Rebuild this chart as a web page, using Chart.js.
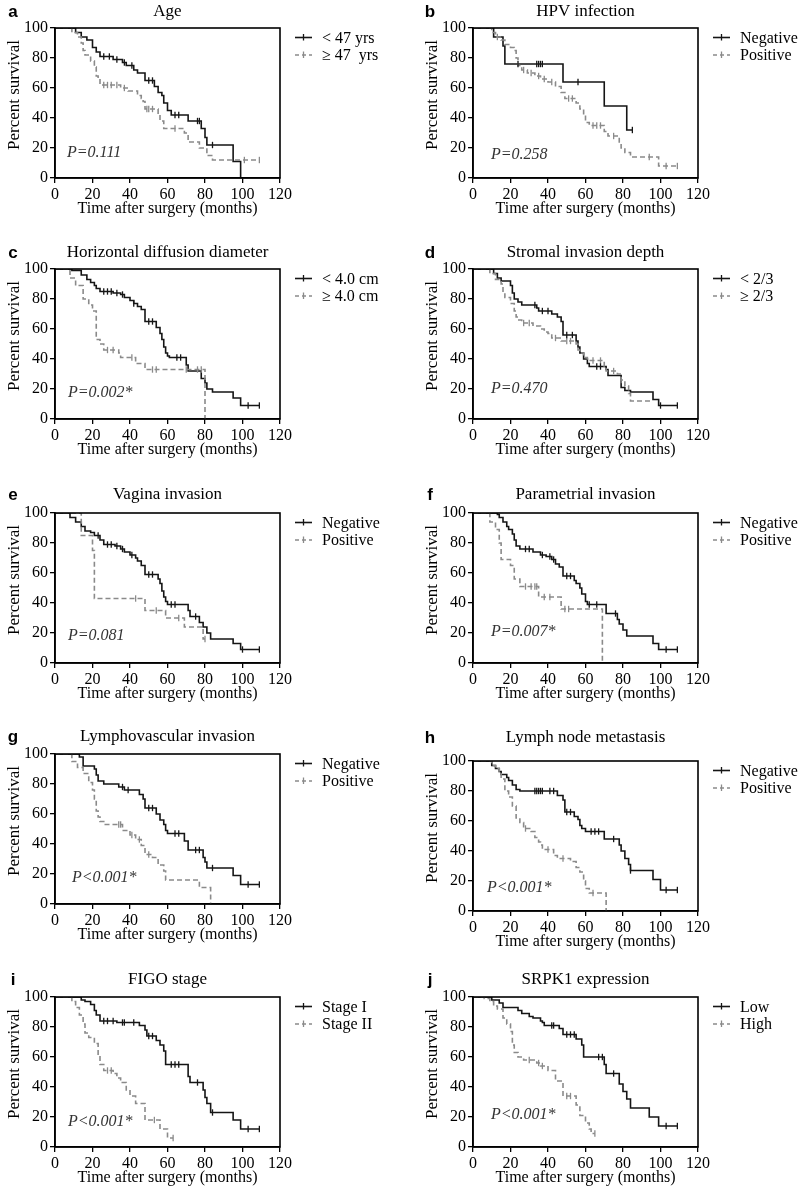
<!DOCTYPE html>
<html>
<head>
<meta charset="utf-8">
<script src="https://cdn.jsdelivr.net/npm/chart.js@4.4.1/dist/chart.umd.min.js"></script>
<style>
  html, body { margin: 0; padding: 0; background: #fff; }
  body { position: relative; width: 800px; height: 1191px; overflow: hidden; }
  canvas { position: absolute; }
</style>
</head>
<body>
<script>
// panel text
const panelLetters = ['a', 'b', 'c', 'd', 'e', 'f', 'g', 'h', 'i', 'j'];
const panelTitles = ['Age', 'HPV infection', 'Horizontal diffusion diameter', 'Stromal invasion depth',
  'Vagina invasion', 'Parametrial invasion', 'Lymphovascular invasion', 'Lymph node metastasis',
  'FIGO stage', 'SRPK1 expression'];
const groupLabels = [['< 47 yrs', '\u2265 47  yrs'], ['Negative', 'Positive'], ['< 4.0 cm', '\u2265 4.0 cm'],
  ['< 2/3', '\u2265 2/3'], ['Negative', 'Positive'], ['Negative', 'Positive'], ['Negative', 'Positive'],
  ['Negative', 'Positive'], ['Stage I', 'Stage II'], ['Low', 'High']];
const pLabels = ['P=0.111', 'P=0.258', 'P=0.002*', 'P=0.470', 'P=0.081', 'P=0.007*',
  'P<0.001*', 'P<0.001*', 'P<0.001*', 'P<0.001*'];
const xTitle = 'Time after surgery (months)';
const yTitle = 'Percent survival';

// Kaplan-Meier steps [month, percent survival] and censored times
const ageLt47 = [[0,100],[11,97],[14,94],[17,92],[20,87],[22,84],[24,81],[31,79],[36,77],[38,75],[42,72],[44,70],[48,65],[53,61],[55,57],[57,55],[58,50],[60,45],[62,42],[71,38],[78,33],[80,27],[81,22],[95,11],[99,0]];
const ageLt47Cens = [26,29,33,37,41,50,52,64,66,76,77,84];
const ageGe47 = [[0,100],[9,97],[12,94],[14,90],[15,85],[16,82],[19,78],[21,74],[22,68],[23,66],[24,62],[35,60],[39,58],[44,55],[46,53],[47,51],[48,46],[55,42],[56,38],[58,33],[69,30],[71,24],[77,20],[81,15],[84,12],[109,12]];
const ageGe47Cens = [26,28,30,33,37,49,50,52,64,101,109];

const hpvNeg = [[0,100],[11,94],[16,88],[17,76],[48,64],[70,48],[82,32],[85,32]];
const hpvNegCens = [24,34,35,36,37,56,85];
const hpvPos = [[0,100],[10,97],[12,94],[15,92],[17,89],[20,87],[22,85],[23,80],[24,75],[26,72],[29,70],[33,68],[36,66],[40,64],[44,61],[47,57],[49,53],[55,50],[57,46],[59,42],[60,37],[62,35],[70,31],[72,28],[78,24],[79,20],[81,17],[84,14],[99,8],[109,8]];
const hpvPosCens = [13,27,31,35,38,42,51,53,64,66,68,75,94,103,109];

const diamLt4 = [[0,100],[9,99],[14,96],[17,93],[19,91],[21,89],[22,87],[24,85],[31,84],[35,83],[37,81],[40,79],[42,77],[44,75],[46,73],[48,65],[54,61],[56,57],[57,53],[58,48],[59,44],[60,42],[61,41],[70,36],[71,32],[78,27],[80,24],[81,20],[84,18],[95,14],[99,9],[109,9]];
const diamLt4Cens = [26,28,30,33,36,42,50,52,65,67,103,109];
const diamGe4 = [[0,100],[8,94],[11,89],[15,80],[18,76],[20,72],[22,53],[24,50],[26,46],[34,44],[35,41],[43,37],[48,33],[80,0]];
const diamGe4Cens = [28,31,41,52,54,70,76,78];

const depthLt = [[0,100],[11,97],[13,94],[15,92],[20,89],[21,84],[22,80],[24,78],[26,76],[34,74],[35,72],[42,70],[45,68],[47,65],[48,56],[55,52],[56,48],[57,44],[59,40],[61,37],[62,35],[71,33],[72,29],[79,21],[81,19],[84,18],[96,13],[99,9],[109,9]];
const depthLtCens = [33,37,40,50,53,66,68,100,109];
const depthGe = [[0,100],[9,97],[12,93],[15,90],[16,84],[17,81],[20,77],[22,72],[23,68],[24,66],[26,64],[32,62],[36,60],[38,58],[40,57],[42,54],[47,52],[55,50],[56,46],[57,44],[59,41],[61,39],[70,35],[71,32],[77,30],[79,26],[81,22],[83,17],[84,12],[96,12]];
const depthGeCens = [27,30,44,50,52,64,68,75,79];

const vagNeg = [[0,100],[8,97],[11,94],[14,91],[16,88],[19,87],[21,85],[24,82],[26,79],[32,78],[35,76],[37,74],[40,72],[43,70],[44,68],[46,65],[48,59],[55,56],[56,53],[57,48],[58,44],[59,41],[60,39],[71,35],[72,31],[77,27],[79,24],[81,20],[83,16],[95,13],[99,9],[109,9]];
const vagNegCens = [23,28,30,33,36,41,50,52,62,64,75,100,109];
const vagPos = [[0,100],[14,85],[20,75],[21,43],[48,35],[59,30],[69,24],[79,16],[80,16]];
const vagPosCens = [43,54,66,80];

const paraNeg = [[0,100],[13,99],[14,97],[16,94],[18,91],[19,89],[21,86],[22,82],[23,78],[25,76],[32,74],[36,72],[39,71],[42,69],[44,66],[46,64],[48,58],[54,55],[55,53],[57,50],[58,46],[60,41],[61,39],[71,33],[77,29],[78,26],[80,22],[82,18],[96,13],[99,9],[109,9]];
const paraNegCens = [28,30,37,41,43,50,52,62,66,76,103,109];
const paraPos = [[0,100],[9,94],[12,89],[14,80],[15,69],[20,65],[22,56],[25,51],[35,44],[47,36],[69,0]];
const paraPosCens = [28,31,33,34,38,41,49,51];

const lviNeg = [[0,100],[13,98],[15,92],[21,90],[22,86],[23,82],[26,80],[34,78],[37,76],[45,73],[47,70],[48,64],[54,60],[56,56],[58,53],[59,49],[60,47],[69,42],[71,36],[79,31],[80,28],[81,24],[95,19],[99,13],[109,13]];
const lviNegCens = [36,39,50,52,64,66,75,77,84,103,109];
const lviPos = [[0,100],[9,95],[12,91],[15,87],[18,81],[20,76],[21,70],[22,62],[23,58],[24,55],[26,53],[36,49],[40,46],[43,43],[46,39],[48,33],[52,31],[55,26],[58,22],[59,16],[77,11],[83,0]];
const lviPosCens = [34,35,41,45,50];

const lnmNeg = [[0,100],[10,97],[12,95],[14,93],[15,91],[18,89],[19,87],[21,84],[23,81],[25,80],[45,77],[48,74],[49,66],[54,63],[56,61],[57,57],[58,55],[60,53],[70,48],[78,44],[79,40],[81,35],[83,31],[84,27],[96,21],[100,14],[109,14]];
const lnmNegCens = [33,34,35,36,37,41,43,50,52,63,65,67,75,84,103,109];
const lnmPos = [[0,100],[10,97],[12,95],[14,93],[15,88],[17,80],[19,76],[21,70],[23,62],[25,59],[27,55],[31,53],[33,49],[35,46],[36,44],[37,41],[43,37],[45,35],[52,33],[55,29],[57,26],[59,20],[60,15],[62,12],[71,0]];
const lnmPosCens = [28,40,48,64];

const figo1 = [[0,100],[14,98],[16,97],[19,95],[21,91],[22,88],[24,84],[33,83],[45,81],[48,78],[49,74],[54,71],[56,68],[58,64],[59,55],[71,47],[72,43],[79,38],[80,33],[81,29],[83,23],[95,18],[99,12],[109,12]];
const figo1Cens = [26,28,31,36,37,42,50,52,62,64,66,76,84,103,109];
const figo2 = [[0,100],[9,97],[11,93],[13,88],[15,82],[16,76],[18,73],[21,69],[23,61],[24,55],[26,51],[31,49],[33,46],[35,43],[38,38],[40,34],[43,29],[48,18],[56,12],[60,6],[63,6]];
const figo2Cens = [28,30,53,63];

const srpkLow = [[0,100],[10,98],[14,96],[16,93],[24,91],[26,89],[30,87],[32,86],[36,84],[37,83],[38,81],[46,79],[48,75],[55,72],[58,68],[59,60],[70,55],[71,49],[78,42],[80,37],[82,32],[84,26],[94,20],[99,14],[109,14]];
const srpkLowCens = [42,43,50,52,54,67,69,75,103,109];
const srpkHigh = [[0,100],[6,99],[9,97],[11,94],[13,92],[16,86],[18,82],[20,77],[21,68],[22,63],[24,60],[27,58],[34,56],[36,54],[40,51],[44,44],[48,34],[55,28],[57,21],[60,16],[62,12],[63,9],[65,9]];
const srpkHighCens = [30,35,37,50,52,65];

const curves = [[ageLt47, ageGe47], [hpvNeg, hpvPos], [diamLt4, diamGe4], [depthLt, depthGe], [vagNeg, vagPos],
  [paraNeg, paraPos], [lviNeg, lviPos], [lnmNeg, lnmPos], [figo1, figo2], [srpkLow, srpkHigh]];
const censors = [[ageLt47Cens, ageGe47Cens], [hpvNegCens, hpvPosCens], [diamLt4Cens, diamGe4Cens],
  [depthLtCens, depthGeCens], [vagNegCens, vagPosCens], [paraNegCens, paraPosCens], [lviNegCens, lviPosCens],
  [lnmNegCens, lnmPosCens], [figo1Cens, figo2Cens], [srpkLowCens, srpkHighCens]];

// layout (page pixels)
const plotTops = [28, 28, 269, 269, 513, 513, 754, 761, 997, 997];
const titleOffsets = [-16, -16, -16, -16, -18, -18, -17, -23, -17, -17];
const pPos = [[12,125],[18,127],[13,124],[18,120],[13,123],[18,119],[17,124],[14,127],[13,125],[18,118]];

const SERIF = '"Liberation Serif", "Times New Roman", serif';
const SANS = '"Liberation Sans", Arial, sans-serif';
const BLACK = '#151515';
const GRAY = '#8a8a8a';
const PLOT_W = 225, PLOT_H = 150, CW = 400, CH = 230, TOP_M = 36;

function survAt(km, t) {
  let s = 100;
  km.forEach(([x, y]) => { if (x <= t) s = y; });
  return s;
}

function buildPanel(i) {
  const col = i % 2;
  const plotLeft = col === 0 ? 55 : 73;
  const canvas = document.createElement('canvas');
  canvas.width = CW;
  canvas.height = CH;
  canvas.style.left = (col * 400) + 'px';
  canvas.style.top = (plotTops[i] - TOP_M) + 'px';
  canvas.style.width = CW + 'px';
  canvas.style.height = CH + 'px';
  document.body.appendChild(canvas);

  const colors = [BLACK, GRAY];
  const datasets = [];
  curves[i].forEach((km, k) => {
    datasets.push({
      data: km.map(([x, y]) => ({ x, y })),
      borderColor: colors[k],
      borderWidth: 1.6,
      borderDash: k === 1 ? [5, 3] : [],
      stepped: true,
      pointRadius: 0,
      fill: false,
      order: 2 - k
    });
  });
  censors[i].forEach((cens, k) => {
    datasets.push({
      data: cens.map(t => ({ x: t, y: survAt(curves[i][k], t) })),
      showLine: false,
      pointStyle: 'line',
      pointRotation: 90,
      pointRadius: 3.2,
      pointBorderColor: colors[k],
      pointBorderWidth: 1.3,
      order: 0
    });
  });

  const tickFont = { family: SERIF, size: 16 };
  const decor = {
    id: 'decor' + i,
    afterDraw(chart) {
      const { ctx, chartArea: a } = chart;
      ctx.save();
      ctx.strokeStyle = '#000';
      ctx.lineWidth = 1.6;
      ctx.strokeRect(a.left, a.top, a.right - a.left, a.bottom - a.top);

      // panel letter and title
      ctx.fillStyle = '#000';
      ctx.textBaseline = 'middle';
      ctx.textAlign = 'center';
      ctx.font = 'bold 17px ' + SANS;
      ctx.fillText(panelLetters[i], col === 0 ? 13 : 30, a.top + titleOffsets[i]);
      ctx.font = '17px ' + SERIF;
      ctx.fillText(panelTitles[i], (a.left + a.right) / 2, a.top + titleOffsets[i]);

      // y title
      ctx.save();
      ctx.translate(a.left - 40, (a.top + a.bottom) / 2 - 8);
      ctx.rotate(-Math.PI / 2);
      ctx.font = '17px ' + SERIF;
      ctx.fillText(yTitle, 0, 0);
      ctx.restore();

      // legend
      ctx.font = '16px ' + SERIF;
      ctx.textAlign = 'left';
      [9.5, 27].forEach((dy, k) => {
        const y = a.top + dy;
        ctx.strokeStyle = colors[k];
        ctx.lineWidth = 1.6;
        ctx.setLineDash(k === 1 ? [4, 3] : []);
        ctx.beginPath();
        ctx.moveTo(a.right + 15, y);
        ctx.lineTo(a.right + 32, y);
        ctx.stroke();
        ctx.setLineDash([]);
        ctx.lineWidth = 1.3;
        ctx.beginPath();
        ctx.moveTo(a.right + 23.5, y - 3.5);
        ctx.lineTo(a.right + 23.5, y + 3);
        ctx.stroke();
        ctx.fillStyle = '#000';
        ctx.fillText(groupLabels[i][k], a.right + 42, y + 1);
      });

      // P value
      ctx.font = 'italic 16px ' + SERIF;
      ctx.fillStyle = '#333';
      ctx.fillText(pLabels[i], a.left + pPos[i][0], a.top + pPos[i][1]);
      ctx.restore();
    }
  };

  new Chart(canvas.getContext('2d'), {
    type: 'line',
    data: { datasets },
    options: {
      responsive: false,
      animation: false,
      devicePixelRatio: 1,
      layout: { padding: { left: plotLeft - 50, top: TOP_M, right: CW - plotLeft - PLOT_W, bottom: CH - TOP_M - PLOT_H - 40 } },
      plugins: { legend: { display: false }, tooltip: { enabled: false } },
      scales: {
        x: {
          type: 'linear', min: 0, max: 120,
          ticks: { stepSize: 20, font: tickFont, color: '#000', padding: 2, maxRotation: 0 },
          grid: { drawOnChartArea: false, tickLength: 5, color: '#000', lineWidth: 1.3 },
          border: { color: '#000', width: 1.6 },
          title: { display: true, text: xTitle, font: { family: SERIF, size: 16 }, color: '#000', padding: 0 },
          afterFit(s) { s.height = 40; }
        },
        y: {
          min: 0, max: 100,
          ticks: { stepSize: 20, font: tickFont, color: '#000', padding: 2 },
          grid: { drawOnChartArea: false, tickLength: 5, color: '#000', lineWidth: 1.3 },
          border: { color: '#000', width: 1.6 },
          afterFit(s) { s.width = 50; }
        }
      }
    },
    plugins: [decor]
  });
}

document.addEventListener('DOMContentLoaded', () => {
  for (let i = 0; i < 10; i++) buildPanel(i);
});
</script>
</body>
</html>
